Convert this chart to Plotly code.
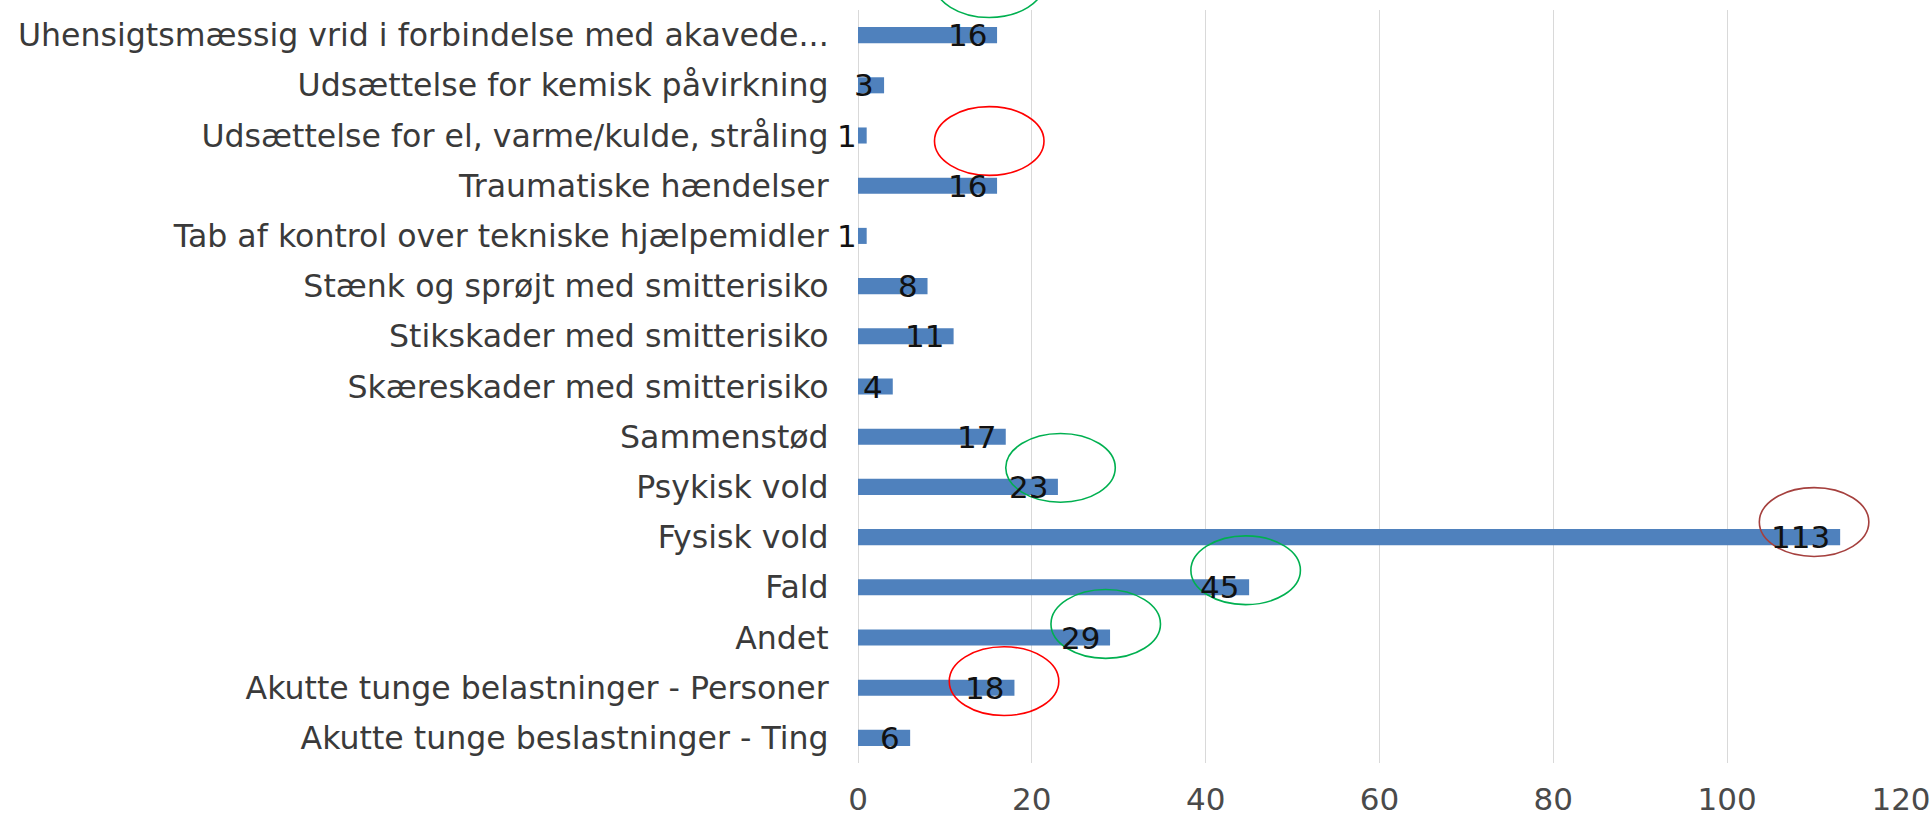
import plotly.graph_objects as go

# Categories listed top to bottom as shown in the chart
categories = [
    "Uhensigtsmæssig vrid i forbindelse med akavede...",
    "Udsættelse for kemisk påvirkning",
    "Udsættelse for el, varme/kulde, stråling",
    "Traumatiske hændelser",
    "Tab af kontrol over tekniske hjælpemidler",
    "Stænk og sprøjt med smitterisiko",
    "Stikskader med smitterisiko",
    "Skæreskader med smitterisiko",
    "Sammenstød",
    "Psykisk vold",
    "Fysisk vold",
    "Fald",
    "Andet",
    "Akutte tunge belastninger - Personer",
    "Akutte tunge beslastninger - Ting",
]
values = [16, 3, 1, 16, 1, 8, 11, 4, 17, 23, 113, 45, 29, 18, 6]

x_ticks = [0, 20, 40, 60, 80, 100, 120]

# Hand-drawn ellipse highlights (centre in value units, centre row index, colour)
mark_x = [23.3, 110.0, 44.6, 28.5, 15.1, 16.8]
mark_row = [8.62, 9.70, 10.66, 11.73, 2.11, 12.87]
mark_color = ["#00B050", "#A5403E", "#00B050", "#00B050", "#FF0000", "#FF0000"]
# Ellipse that sits above the plot area (top edge of the picture)
top_mark_x = 15.1
top_mark_color = "#00B050"

FONT = "DejaVu Sans"

fig = go.Figure()
fig.add_trace(go.Bar(
    x=values,
    y=categories,
    orientation="h",
    marker=dict(color="#4F81BD", line=dict(width=0)),
    hoverinfo="x+y",
))

annotations = []
for c, v in zip(categories, values):
    annotations.append(dict(
        x=v, y=c, xref="x", yref="y",
        text=str(v), showarrow=False,
        xanchor="right", yanchor="middle", xshift=-8,
        font=dict(family=FONT, size=31, color="#111111"),
    ))

shapes = []
half_w = 6.3
half_h = 0.685
for mx, mr, col in zip(mark_x, mark_row, mark_color):
    shapes.append(dict(
        type="circle", xref="x", yref="y",
        x0=mx - half_w, x1=mx + half_w,
        y0=mr - half_h, y1=mr + half_h,
        line=dict(color=col, width=1.6),
        layer="above",
    ))
shapes.append(dict(
    type="circle", xref="x", yref="paper",
    x0=top_mark_x - half_w, x1=top_mark_x + half_w,
    y0=0.990, y1=1.082,
    line=dict(color=top_mark_color, width=1.6),
    layer="above",
))

n = len(categories)

fig.update_layout(
    width=1931, height=817,
    margin=dict(l=858, r=30, t=10, b=54),
    paper_bgcolor="white",
    plot_bgcolor="white",
    showlegend=False,
    bargap=0.68,
    annotations=annotations,
    shapes=shapes,
    font=dict(family=FONT, size=31, color="#3a3a3a"),
    xaxis=dict(
        range=[0, 120],
        tickvals=x_ticks,
        ticktext=[str(t) for t in x_ticks],
        showgrid=True, gridcolor="#D9D9D9", gridwidth=1,
        zeroline=True, zerolinecolor="#D9D9D9", zerolinewidth=1,
        showline=False,
        ticks="outside", ticklen=9, tickcolor="rgba(0,0,0,0)",
        tickfont=dict(family=FONT, size=31, color="#4a4a4a"),
        ticklabeloverflow="allow",
        automargin=False,
        fixedrange=True,
    ),
    yaxis=dict(
        categoryorder="array",
        categoryarray=categories,
        range=[n - 0.5, -0.5],
        showgrid=False,
        showline=False,
        ticks="outside", ticklen=22, tickcolor="rgba(0,0,0,0)",
        tickfont=dict(family=FONT, size=31.6, color="#3a3a3a"),
        automargin=False,
        fixedrange=True,
    ),
)

fig.write_html(
    "out.html",
    config={"displayModeBar": False},
    post_script="document.body.style.margin='0';document.body.style.overflow='hidden';",
)
